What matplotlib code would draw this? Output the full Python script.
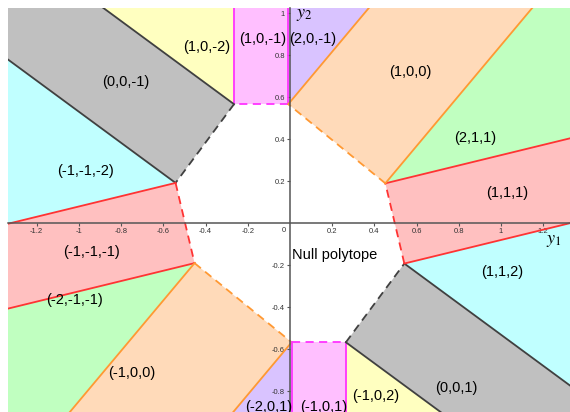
import numpy as np
import matplotlib.pyplot as plt
from matplotlib.patches import Polygon

# vertices of the null polytope (counter-clockwise from the top, near the y2 axis)
verts = np.array([[-0.008, 0.567], [-0.265, 0.567], [-0.542, 0.192], [-0.452, -0.19],
                  [0.008, -0.567], [0.265, -0.567], [0.542, -0.192], [0.452, 0.19]])
# outward direction of the strip attached to edge i (verts[i] -> verts[i+1])
edge_dirs = np.array([[0, 1], [-1, 0.74], [-1, -0.245], [-1, -1.2],
                      [0, -1], [1, -0.74], [1, 0.245], [1, 1.2]])
edge_labels = ['(1,0,-1)', '(0,0,-1)', '(-1,-1,-1)', '(-1,0,0)',
               '(-1,0,1)', '(0,0,1)', '(1,1,1)', '(1,0,0)']
# cone at vertex j lies between strips j-1 and j
vertex_labels = ['(2,0,-1)', '(1,0,-2)', '(-1,-1,-2)', '(-2,-1,-1)',
                 '(-2,0,1)', '(-1,0,2)', '(1,1,2)', '(2,1,1)']

edge_text_pos = [(-0.13, 0.876), (-0.78, 0.673), (-0.94, -0.137), (-0.75, -0.713),
                 (0.159, -0.876), (0.786, -0.783), (1.03, 0.146), (0.571, 0.72)]
vertex_text_pos = [(0.108, 0.876), (-0.395, 0.84), (-0.967, 0.249), (-1.02, -0.365),
                   (-0.103, -0.876), (0.408, -0.822), (1.007, -0.23), (0.88, 0.406)]

edge_fill = ['#ffbfff', '#c0c0c0', '#ffc0c0', '#ffdab9',
             '#ffbfff', '#c0c0c0', '#ffc0c0', '#ffdab9']
edge_line = ['#ff33ff', '#404040', '#ff3333', '#ff9933',
             '#ff33ff', '#404040', '#ff3333', '#ff9933']
vertex_fill = ['#d9c3ff', '#ffffc0', '#c0ffff', '#c0ffc0',
               '#d9c3ff', '#ffffc0', '#c0ffff', '#c0ffc0']

xticks = [-1.2, -1, -0.8, -0.6, -0.4, -0.2, 0.2, 0.4, 0.6, 0.8, 1, 1.2]
yticks = [-0.8, -0.6, -0.4, -0.2, 0.2, 0.4, 0.6, 0.8, 1]

plt.rcParams['font.family'] = ['Liberation Sans', 'DejaVu Sans']

fig = plt.figure(figsize=(5.7, 4.12), dpi=100)
ax = fig.add_axes([8/570, 0, 562/570, 404/412])
ax.set_xlim(-1.336, 1.327)
ax.set_ylim(-0.899, 1.025)

L = 20
n = len(verts)
for i in range(n):
    a, b = verts[i], verts[(i+1) % n]
    d = edge_dirs[i] / np.hypot(*edge_dirs[i])
    ax.add_patch(Polygon([a, b, b + L*d, a + L*d], closed=True,
                         facecolor=edge_fill[i], edgecolor='none', zorder=1))
    dp = edge_dirs[i-1] / np.hypot(*edge_dirs[i-1])
    ax.add_patch(Polygon([a, a + L*dp, a + L*d], closed=True,
                         facecolor=vertex_fill[i], edgecolor='none', zorder=1))

for i in range(n):
    a, b = verts[i], verts[(i+1) % n]
    d = edge_dirs[i] / np.hypot(*edge_dirs[i])
    for p in (a, b):
        ax.plot([p[0], p[0] + L*d[0]], [p[1], p[1] + L*d[1]],
                color=edge_line[i], lw=1.3, zorder=3)
    ax.plot([a[0], b[0]], [a[1], b[1]], color=edge_line[i], lw=1.3,
            ls=(0, (4.5, 3)), zorder=3)

for txt, (x, y) in zip(edge_labels, edge_text_pos):
    ax.text(x, y, txt, ha='center', va='center', fontsize=10.5, zorder=5)
for txt, (x, y) in zip(vertex_labels, vertex_text_pos):
    ax.text(x, y, txt, ha='center', va='center', fontsize=10.5, zorder=5)
ax.text(0.01, -0.151, 'Null polytope', ha='left', va='center', fontsize=10.5, zorder=5)

# axes through the origin
for side in ('top', 'right'):
    ax.spines[side].set_visible(False)
ax.spines['left'].set_position('zero')
ax.spines['bottom'].set_position('zero')
for side in ('left', 'bottom'):
    ax.spines[side].set_color('#555555')
    ax.spines[side].set_linewidth(1.1)
    ax.spines[side].set_zorder(4)
ax.set_xticks(xticks)
ax.set_xticklabels([f'{t:g}' for t in xticks])
ax.set_yticks(yticks)
ax.set_yticklabels([f'{t:g}' for t in yticks])
ax.tick_params(axis='both', direction='out', length=2, width=0.8, color='#555555',
               labelsize=5.5, labelcolor='#333333', pad=1.5)
ax.text(-0.02, -0.02, '0', ha='right', va='top', fontsize=5.5, color='#333333')
ax.text(1.248, -0.08, r'$y_1$', ha='center', va='center', fontsize=13,
        math_fontfamily='stix', zorder=5)
ax.text(0.066, 0.996, r'$y_2$', ha='center', va='center', fontsize=13,
        math_fontfamily='stix', zorder=5)

fig.savefig('out.png', dpi=100)
